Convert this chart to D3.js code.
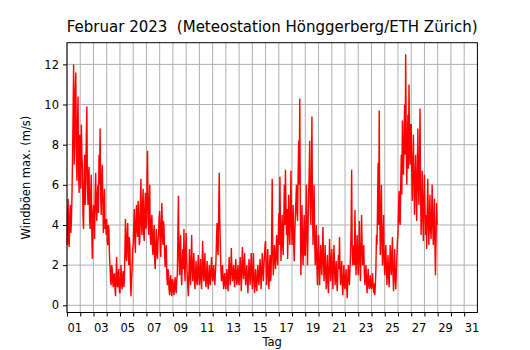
<!DOCTYPE html>
<html>
<head>
<meta charset="utf-8">
<script src="https://cdn.jsdelivr.net/npm/d3@7"></script>
<style>
  body { margin: 0; background: #fff; }
  svg { display: block; font-family: "DejaVu Sans", sans-serif; }
</style>
</head>
<body>
<svg width="530" height="350"></svg>
<script>
"use strict";

// hourly max gusts (m/s), one row per day of Feb 2023
var stepsPerDay = 24;
var gusts = [
  [3.0, 4.6, 5.3, 3.2, 2.9, 4.4, 5.0, 3.6, 4.2, 5.4, 7.3, 9.5, 12.0, 7.0, 8.0, 10.8, 11.6, 7.5, 6.2, 9.0, 10.4, 6.5, 5.6, 8.5],
  [8.0, 5.8, 9.0, 7.5, 6.8, 4.5, 3.8, 6.0, 7.5, 5.0, 6.2, 8.5, 9.9, 6.0, 5.0, 6.5, 6.9, 4.2, 3.8, 5.5, 6.5, 3.5, 2.3, 4.5],
  [5.0, 4.0, 3.3, 5.5, 6.6, 4.8, 4.2, 5.5, 6.0, 4.6, 7.5, 6.0, 8.8, 5.5, 4.5, 6.2, 7.0, 5.0, 3.6, 5.0, 5.8, 3.8, 4.3, 3.5],
  [4.3, 3.2, 3.0, 4.0, 3.8, 2.5, 1.9, 1.2, 1.0, 2.0, 1.8, 1.1, 0.9, 1.5, 1.6, 0.8, 0.45, 1.5, 2.4, 1.0, 0.9, 1.6, 1.8, 0.7],
  [0.6, 1.3, 2.0, 1.0, 0.8, 1.5, 1.7, 0.9, 1.2, 2.8, 4.3, 2.5, 2.2, 3.5, 4.1, 2.6, 2.0, 3.4, 3.0, 1.2, 0.45, 1.2, 1.8, 2.8],
  [3.0, 4.0, 4.8, 3.2, 2.6, 4.2, 5.0, 3.8, 3.4, 5.2, 4.6, 3.0, 3.2, 5.0, 6.3, 4.0, 3.5, 5.0, 5.8, 3.6, 3.2, 4.8, 5.6, 3.8],
  [4.0, 6.0, 7.7, 4.5, 3.5, 5.0, 6.0, 3.4, 3.0, 4.2, 4.5, 2.8, 2.5, 3.6, 4.0, 2.2, 1.8, 3.0, 3.8, 2.6, 2.3, 3.2, 3.5, 4.4],
  [4.7, 3.2, 2.4, 4.0, 5.1, 3.5, 3.0, 4.2, 3.8, 2.5, 1.9, 2.8, 3.0, 1.5, 1.0, 1.8, 1.6, 0.8, 0.5, 1.2, 1.5, 0.7, 0.45, 1.3],
  [1.2, 0.7, 0.5, 1.1, 1.4, 0.8, 0.6, 1.3, 1.5, 3.5, 5.45, 2.5, 1.5, 2.8, 3.5, 1.6, 1.0, 2.2, 2.8, 1.8, 3.8, 2.0, 1.2, 2.6],
  [3.6, 2.2, 1.5, 0.9, 0.45, 1.6, 2.8, 1.5, 1.0, 2.2, 3.5, 1.8, 1.2, 2.0, 2.6, 1.3, 0.8, 1.6, 2.2, 1.2, 1.0, 1.8, 2.5, 1.4],
  [1.0, 1.8, 2.3, 1.2, 0.8, 2.0, 3.2, 1.6, 1.2, 2.0, 2.6, 1.3, 0.9, 1.6, 2.2, 1.2, 0.8, 1.5, 2.0, 1.1, 1.0, 1.8, 2.4, 1.5],
  [1.2, 1.7, 2.0, 1.3, 1.0, 1.6, 2.2, 3.2, 4.1, 2.8, 2.5, 4.8, 6.6, 4.2, 3.0, 1.8, 1.2, 1.6, 2.0, 1.2, 0.8, 1.4, 1.6, 1.0],
  [0.8, 1.4, 1.8, 1.1, 0.7, 1.6, 2.4, 1.5, 1.0, 1.9, 2.85, 1.6, 1.2, 1.6, 2.0, 1.3, 0.9, 1.7, 2.3, 1.4, 1.0, 1.5, 2.0, 1.2],
  [1.0, 1.8, 2.4, 1.4, 0.7, 1.9, 2.9, 1.8, 1.3, 2.0, 2.6, 1.5, 1.0, 1.6, 2.0, 1.2, 0.6, 1.5, 2.3, 1.6, 1.0, 1.9, 2.6, 1.5],
  [0.8, 1.7, 2.6, 1.3, 0.6, 1.2, 1.8, 1.0, 0.7, 1.4, 2.0, 1.3, 1.0, 1.7, 2.3, 1.5, 0.8, 1.8, 2.6, 1.8, 1.2, 2.0, 2.4, 3.0],
  [3.2, 2.0, 1.0, 1.8, 2.8, 1.6, 0.8, 1.7, 2.5, 1.2, 1.5, 3.5, 6.3, 2.5, 1.5, 2.4, 3.0, 2.2, 1.8, 2.6, 3.5, 2.4, 2.0, 3.4],
  [4.6, 3.0, 6.4, 3.8, 2.2, 3.5, 4.5, 3.0, 2.5, 4.2, 6.0, 4.0, 6.75, 5.0, 3.5, 4.8, 2.3, 4.0, 5.5, 3.8, 3.0, 4.5, 6.7, 4.2],
  [3.0, 4.2, 5.0, 3.0, 2.2, 3.6, 4.5, 5.2, 6.0, 4.6, 4.2, 6.5, 8.2, 6.0, 10.3, 5.0, 1.5, 3.2, 5.0, 2.8, 2.0, 3.5, 4.5, 2.5],
  [2.5, 4.0, 6.0, 3.4, 2.0, 3.8, 5.5, 6.5, 8.2, 5.0, 4.0, 6.0, 9.4, 5.0, 3.0, 4.5, 6.0, 3.2, 2.0, 3.0, 4.0, 2.0, 1.0, 2.4],
  [3.5, 2.0, 1.0, 2.0, 3.0, 2.2, 1.5, 2.6, 3.9, 2.2, 1.2, 2.0, 3.0, 1.6, 0.8, 1.6, 2.5, 1.2, 0.6, 1.8, 3.3, 2.0, 1.2, 2.2],
  [2.8, 1.6, 0.8, 2.0, 3.0, 1.8, 1.0, 1.6, 2.2, 1.2, 0.7, 1.6, 2.5, 1.8, 3.4, 1.8, 1.0, 1.5, 2.2, 1.1, 0.5, 1.2, 2.0, 1.0],
  [0.8, 1.4, 1.8, 0.9, 0.35, 1.2, 2.0, 1.4, 1.0, 1.8, 2.5, 3.8, 6.75, 3.0, 2.0, 2.6, 3.0, 2.0, 4.75, 2.8, 1.5, 2.4, 3.5, 2.2],
  [1.5, 2.8, 4.2, 2.2, 1.2, 2.5, 4.5, 3.0, 2.0, 2.6, 3.0, 1.6, 1.0, 1.5, 2.0, 1.2, 0.6, 1.3, 1.8, 1.0, 0.8, 1.2, 1.5, 0.9],
  [0.8, 1.2, 1.6, 0.9, 0.6, 1.1, 0.5, 1.0, 1.8, 3.5, 3.0, 5.0, 7.1, 4.0, 9.7, 4.5, 2.5, 4.2, 6.0, 3.0, 2.0, 3.4, 4.5, 2.2],
  [1.5, 2.4, 3.0, 1.8, 1.0, 1.8, 2.5, 1.4, 0.9, 2.0, 3.0, 2.0, 1.5, 2.5, 3.4, 1.5, 0.7, 1.6, 2.8, 1.4, 0.8, 1.6, 2.4, 3.2],
  [3.5, 4.8, 5.7, 4.2, 4.0, 6.0, 7.5, 5.5, 9.2, 6.8, 6.5, 8.5, 10.0, 7.5, 12.5, 8.0, 6.0, 8.0, 9.5, 6.8, 11.0, 8.2, 7.0, 9.0],
  [9.0, 6.5, 5.2, 7.0, 8.5, 6.0, 4.5, 6.2, 7.5, 5.5, 4.2, 6.5, 8.8, 6.0, 5.0, 7.2, 9.8, 5.5, 3.5, 5.0, 6.7, 4.5, 3.2, 5.2],
  [6.5, 4.8, 3.5, 4.5, 2.8, 4.6, 6.3, 4.2, 3.0, 4.4, 5.5, 3.8, 3.3, 4.5, 6.0, 4.0, 3.0, 4.2, 5.3, 3.0, 1.5, 3.2, 5.1, 4.0]
];
var dayTicks = d3.range(1, 32);          // 01 .. 31
var yTicks = [0, 2, 4, 6, 8, 10, 12];
var title = "Februar 2023  (Meteostation Hönggerberg/ETH Zürich)";

var svg = d3.select("svg");
var mLeft = 67, mRight = 477.4, mTop = 42.7, mBottom = 312.5;

// x in days since Feb 1 00:00
var x = d3.scaleLinear().domain([0, 31]).range([mLeft, mRight]);
var y = d3.scaleLinear().domain([-0.36, 13.08]).range([mBottom, mTop]);

var points = [];
gusts.forEach(function(row, day) {
    row.forEach(function(v, i) {
        points.push({ t: day + i / stepsPerDay, v: v });
    });
});

// grid
svg.append("g")
    .selectAll("line")
    .data(dayTicks)
    .enter().append("line")
    .attr("x1", function(d) { return x(d - 1); })
    .attr("x2", function(d) { return x(d - 1); })
    .attr("y1", mTop).attr("y2", mBottom)
    .attr("stroke", "#b0b0b0").attr("stroke-width", 1);

svg.append("g")
    .selectAll("line")
    .data(yTicks)
    .enter().append("line")
    .attr("x1", mLeft).attr("x2", mRight)
    .attr("y1", function(d) { return y(d); })
    .attr("y2", function(d) { return y(d); })
    .attr("stroke", "#b0b0b0").attr("stroke-width", 1);

// gust line
var line = d3.line()
    .x(function(d) { return x(d.t); })
    .y(function(d) { return y(d.v); });

svg.append("path")
    .datum(points)
    .attr("d", line)
    .attr("fill", "none")
    .attr("stroke", "red")
    .attr("stroke-width", 1.4)
    .attr("stroke-linejoin", "miter");

// axes
var xAxis = d3.axisBottom(x)
    .tickValues(dayTicks.map(function(d) { return d - 1; }))
    .tickSize(4).tickPadding(4)
    .tickFormat("");
svg.append("g")
    .attr("transform", "translate(0," + mBottom + ")")
    .call(xAxis)
    .call(function(g) { g.select(".domain").remove(); });

svg.append("g")
    .selectAll("text")
    .data(dayTicks.filter(function(d) { return d % 2 === 1; }))
    .enter().append("text")
    .attr("x", function(d) { return x(d - 1) + 0.5; })
    .attr("y", 331.7)
    .attr("font-size", "11.5px")
    .attr("fill", "#000")
    .text(function(d) { return d3.format("02d")(d); });

var yAxis = d3.axisLeft(y)
    .tickValues(yTicks)
    .tickSize(4).tickPadding(4);
svg.append("g")
    .attr("transform", "translate(" + mLeft + ",0)")
    .call(yAxis)
    .call(function(g) {
        g.select(".domain").remove();
        g.selectAll("text").attr("font-size", "11.5px").attr("font-family", "DejaVu Sans").attr("fill", "#000");
    });

svg.append("rect")
    .attr("x", mLeft).attr("y", mTop)
    .attr("width", mRight - mLeft).attr("height", mBottom - mTop)
    .attr("fill", "none").attr("stroke", "#000").attr("stroke-width", 1);

// labels
svg.append("text")
    .attr("x", (mLeft + mRight) / 2).attr("y", 32)
    .attr("text-anchor", "middle")
    .attr("font-size", "15px")
    .style("white-space", "pre")
    .text(title);

svg.append("text")
    .attr("x", (mLeft + mRight) / 2).attr("y", 346)
    .attr("text-anchor", "middle")
    .attr("font-size", "11.5px")
    .text("Tag");

svg.append("text")
    .attr("transform", "translate(30.4," + (mTop + mBottom) / 2 + ") rotate(-90)")
    .attr("text-anchor", "middle")
    .attr("font-size", "11.5px")
    .text("Windböen max. (m/s)");
</script>
</body>
</html>
